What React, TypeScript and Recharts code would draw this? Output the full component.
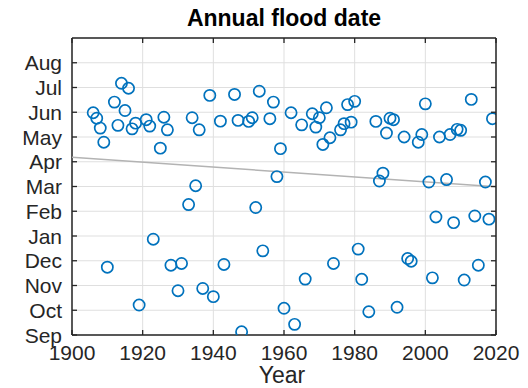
import { CartesianGrid, Scatter, ScatterChart, XAxis, YAxis } from "recharts";

// flood year and date (months after 1 Sep)
const years = [
  1906, 1907, 1908, 1909, 1910, 1912, 1913, 1914, 1915, 1916, 1917, 1918, 1919,
  1921, 1922, 1923, 1925, 1926, 1927, 1928, 1930, 1931, 1933, 1934, 1935, 1936,
  1937, 1939, 1940, 1942, 1943, 1946, 1947, 1948, 1950, 1951, 1952, 1953, 1954,
  1956, 1957, 1958, 1959, 1960, 1962, 1963, 1965, 1966, 1968, 1969, 1970, 1971,
  1972, 1973, 1974, 1976, 1977, 1978, 1979, 1980, 1981, 1982, 1984, 1986, 1987,
  1988, 1989, 1990, 1991, 1992, 1994, 1995, 1996, 1998, 1999, 2000, 2001, 2002,
  2003, 2004, 2006, 2007, 2008, 2009, 2010, 2011, 2013, 2014, 2015, 2017, 2018,
  2019,
];
const floodDates = [
  8.98, 8.76, 8.36, 7.79, 2.74, 9.41, 8.47, 10.17, 9.07, 9.97, 8.33, 8.56, 1.21,
  8.7, 8.44, 3.87, 7.55, 8.8, 8.29, 2.82, 1.79, 2.89, 5.27, 8.78, 6.03, 8.29,
  1.88, 9.68, 1.55, 8.64, 2.85, 9.72, 8.67, 0.13, 8.63, 8.78, 5.15, 9.85, 3.4,
  8.74, 9.41, 6.4, 7.53, 1.08, 8.98, 0.43, 8.49, 2.26, 8.94, 8.4, 8.78, 7.7,
  9.18, 7.97, 2.89, 8.29, 8.54, 9.31, 8.6, 9.44, 3.47, 2.25, 0.94, 8.63, 6.22,
  6.54, 8.16, 8.76, 8.7, 1.12, 8.0, 3.09, 2.98, 7.79, 8.1, 9.34, 6.18, 2.31,
  4.77, 8.0, 6.28, 8.1, 4.54, 8.31, 8.27, 2.22, 9.52, 4.81, 2.82, 6.18, 4.68,
  8.74,
];

const trendYears = [1900, 2020];
const trendDates = [7.18, 5.99];

const monthLabels = ["Sep", "Oct", "Nov", "Dec", "Jan", "Feb", "Mar", "Apr", "May", "Jun", "Jul", "Aug"];
const yearTicks = [1900, 1920, 1940, 1960, 1980, 2000, 2020];
const monthTicks = monthLabels.map((_, i) => i);
const X_DOMAIN = [1900, 2020];
const Y_DOMAIN = [0, 12];

const floods = years.map((year, i) => ({ year, date: floodDates[i] }));
const trend = trendYears.map((year, i) => ({ year, date: trendDates[i] }));

// layout
const W = 528;
const H = 388;
const MARGIN = { top: 38, right: 32, bottom: 0, left: 0 };
const Y_AXIS_W = 72;
const X_AXIS_H = 53;
const PLOT_L = MARGIN.left + Y_AXIS_W;
const PLOT_R = W - MARGIN.right;
const PLOT_T = MARGIN.top;
const PLOT_B = H - MARGIN.bottom - X_AXIS_H;

const FONT = "'Liberation Sans', Arial, Helvetica, sans-serif";
const INK = "#262626";

const BottomTick = ({ x, y, payload }: any) => (
  <g>
    <line x1={x} x2={x} y1={y} y2={y - 5} stroke={INK} strokeWidth={1.3} />
    <text x={x} y={y + 25} textAnchor="middle" fontSize={21} fontFamily={FONT} fill={INK}>
      {payload.value}
    </text>
  </g>
);

const LeftTick = ({ x, y, payload }: any) => (
  <g>
    <line x1={x} x2={x + 5} y1={y} y2={y} stroke={INK} strokeWidth={1.3} />
    <text x={x - 10} y={y + 7.5} textAnchor="end" fontSize={21} fontFamily={FONT} fill={INK}>
      {monthLabels[payload.value]}
    </text>
  </g>
);

const Ring = (props: any) => (
  <circle cx={props.cx} cy={props.cy} r={5.6} fill="none" stroke="#0072BD" strokeWidth={1.7} />
);

// box edges (top and right) with inward ticks, like MATLAB's "box on"
function BoxEdges() {
  const xAt = (t: number) => PLOT_L + ((t - X_DOMAIN[0]) / (X_DOMAIN[1] - X_DOMAIN[0])) * (PLOT_R - PLOT_L);
  const yAt = (m: number) => PLOT_B - ((m - Y_DOMAIN[0]) / (Y_DOMAIN[1] - Y_DOMAIN[0])) * (PLOT_B - PLOT_T);
  return (
    <svg width={W} height={H} style={{ position: "absolute", left: 0, top: 0, pointerEvents: "none" }}>
      <line x1={PLOT_L} x2={PLOT_R} y1={PLOT_T} y2={PLOT_T} stroke={INK} strokeWidth={1.5} />
      <line x1={PLOT_R} x2={PLOT_R} y1={PLOT_T} y2={PLOT_B} stroke={INK} strokeWidth={1.5} />
      {yearTicks.map((t) => (
        <line key={t} x1={xAt(t)} x2={xAt(t)} y1={PLOT_T} y2={PLOT_T + 5} stroke={INK} strokeWidth={1.3} />
      ))}
      {monthTicks.map((m) => (
        <line key={m} x1={PLOT_R} x2={PLOT_R - 5} y1={yAt(m)} y2={yAt(m)} stroke={INK} strokeWidth={1.3} />
      ))}
    </svg>
  );
}

export default function App() {
  return (
    <div style={{ position: "absolute", left: 0, top: 0, width: W, height: H, background: "#fff" }}>
      <svg width={W} height={H} style={{ position: "absolute", left: 0, top: 0 }}>
        <text x={284} y={26} textAnchor="middle" fontSize={23} fontWeight="bold" fontFamily={FONT} fill="#000">
          Annual flood date
        </text>
        <text x={282} y={383} textAnchor="middle" fontSize={23} fontFamily={FONT} fill={INK}>
          Year
        </text>
      </svg>
      <div style={{ position: "absolute", left: 0, top: 0 }}>
        <ScatterChart width={W} height={H} margin={MARGIN}>
          <CartesianGrid stroke="#dfdfdf" strokeWidth={1} />
          <XAxis
            type="number"
            dataKey="year"
            domain={X_DOMAIN}
            ticks={yearTicks}
            height={X_AXIS_H}
            tickSize={0}
            tickMargin={0}
            tick={<BottomTick />}
            tickLine={false}
            axisLine={{ stroke: INK, strokeWidth: 1.5 }}
            allowDataOverflow
          />
          <YAxis
            type="number"
            dataKey="date"
            domain={Y_DOMAIN}
            ticks={monthTicks}
            width={Y_AXIS_W}
            tickSize={0}
            tickMargin={0}
            tick={<LeftTick />}
            tickLine={false}
            axisLine={{ stroke: INK, strokeWidth: 1.5 }}
            interval={0}
            allowDataOverflow
          />
          <Scatter
            data={trend}
            line={{ stroke: "#b3b3b3", strokeWidth: 1.5 }}
            shape={() => <g />}
            isAnimationActive={false}
          />
          <Scatter data={floods} shape={<Ring />} isAnimationActive={false} />
        </ScatterChart>
      </div>
      <BoxEdges />
    </div>
  );
}
